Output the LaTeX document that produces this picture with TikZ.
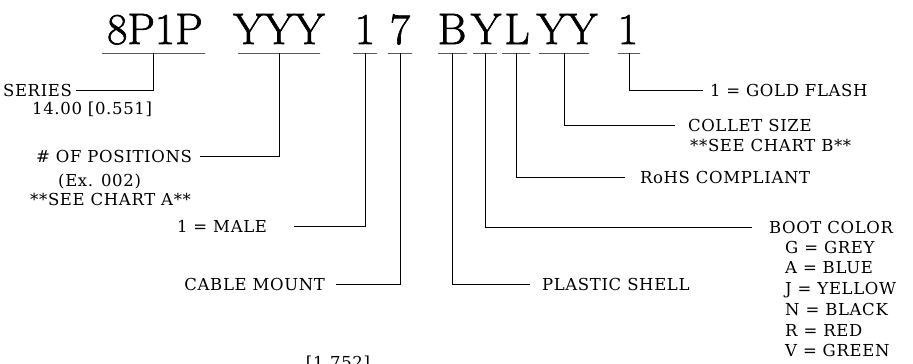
\documentclass[tikz,border=0pt]{standalone}
\usepackage{fontspec}
\newfontfamily\labfont{DejaVu Serif}[LetterSpace=4]
\newfontfamily\bigfont{Latin Modern Roman}[FakeBold=1.5]
\begin{document}
\begin{tikzpicture}[x=1pt,y=-1pt,
  big/.style={font=\bigfont\fontsize{44}{48}\selectfont, inner sep=0pt, anchor=base},
  lab/.style={font=\labfont\fontsize{16.5}{20.5}\selectfont, inner xsep=0pt, inner ysep=1pt},
  ul/.style={draw, rectangle, inner sep=0pt, minimum height=0pt, line width=0.8pt},
  conn/.style={draw, line width=0.8pt}]
\useasboundingbox (0,0) rectangle (913,364);
% part number characters
\node[big] (t1) at (155,44) {8P1P};
\node[big] (t2) at (279,44) {YYY};
\node[big] (t3) at (365,44) {1};
\node[big] (t4) at (400,44) {7};
\node[big] (t5) at (452,44) {B};
\node[big] (t6) at (486,44) {Y};
\node[big] (t7) at (517,44) {L};
\node[big] (t8) at (567,44) {YY};
\node[big] (t9) at (628,44) {1};
% underlines
\node[ul, minimum width=103pt] (u1) at (153.5,53) {};
\node[ul, minimum width=82pt] (u2) at (279,53) {};
\node[ul, minimum width=24pt] (u3) at (365,53) {};
\node[ul, minimum width=24pt] (u4) at (400,53) {};
\node[ul, minimum width=29pt] (u5) at (452.5,53) {};
\node[ul, minimum width=24pt] (u6) at (485,53) {};
\node[ul, minimum width=28pt] (u7) at (516,53) {};
\node[ul, minimum width=50pt] (u8) at (564,53) {};
\node[ul, minimum width=22pt] (u9) at (629,53) {};
% labels
\node[lab, anchor=east, outer xsep=4pt] (series) at (76,90) {SERIES};
\node[lab, anchor=base west] (seriesdim) at (32,114) {14.00 [0.551]};
\node[lab, anchor=east, outer xsep=8pt] (pos) at (200,156) {\# OF POSITIONS};
\node[lab, anchor=base west] (posex) at (58,186) {(Ex. 002)};
\node[lab, anchor=base west] (charta) at (30,205) {**SEE CHART A**};
\node[lab, anchor=east, outer xsep=27pt] (male) at (294,226) {1 = MALE};
\node[lab, anchor=east, outer xsep=11pt] (cable) at (336,284) {CABLE MOUNT};
\node[lab, anchor=west, outer xsep=12pt] (shell) at (530,284) {PLASTIC SHELL};
\node[lab, anchor=west, outer xsep=17pt] (boot) at (752,227) {BOOT COLOR};
\node[lab, anchor=base west] (c1) at (785,253) {G = GREY};
\node[lab, anchor=base west] (c2) at (785,273.5) {A = BLUE};
\node[lab, anchor=base west] (c3) at (785,294) {J = YELLOW};
\node[lab, anchor=base west] (c4) at (785,315) {N = BLACK};
\node[lab, anchor=base west] (c5) at (785,336) {R = RED};
\node[lab, anchor=base west] (c6) at (785,356) {V = GREEN};
\node[lab, anchor=west, outer xsep=15pt] (rohs) at (625,177) {RoHS COMPLIANT};
\node[lab, anchor=west, outer xsep=13pt] (collet) at (675,125) {COLLET SIZE};
\node[lab, anchor=base west] (chartb) at (690,151) {**SEE CHART B**};
\node[lab, anchor=west, outer xsep=7pt] (gold) at (703,90) {1 = GOLD FLASH};
\node[lab, anchor=north] (dim) at (338,355) {[1.752]};
% connectors
\draw[conn] (u1.south) |- (series.east);
\draw[conn] (u2.south) |- (pos.east);
\draw[conn] (u3.south) |- (male.east);
\draw[conn] (u4.south) |- (cable.east);
\draw[conn] (u5.south) |- (shell.west);
\draw[conn] (u6.south) |- (boot.west);
\draw[conn] (u7.south) |- (rohs.west);
\draw[conn] (u8.south) |- (collet.west);
\draw[conn] (u9.south) |- (gold.west);
\end{tikzpicture}
\end{document}
